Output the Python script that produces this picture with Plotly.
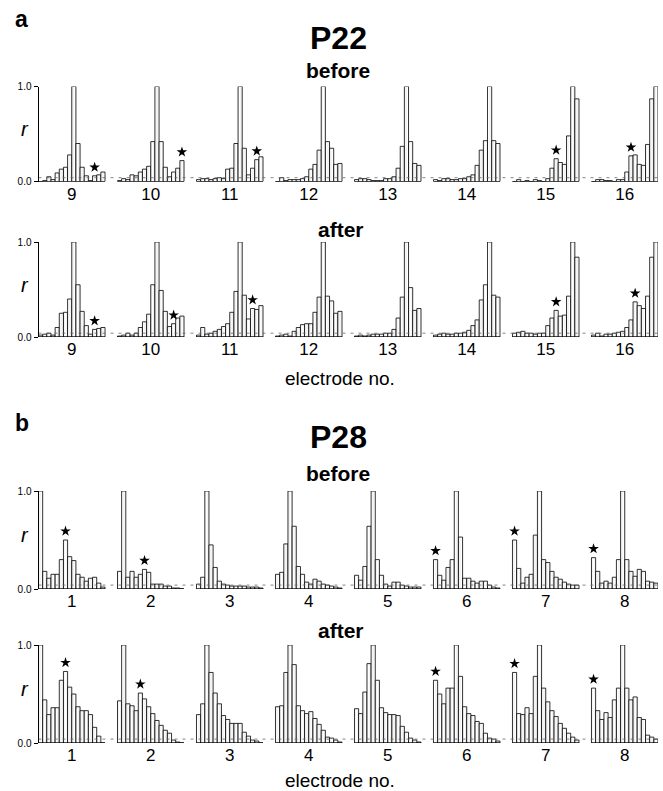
import plotly.graph_objects as go

# ---------------- data ----------------
p22_electrodes = [9, 10, 11, 12, 13, 14, 15, 16]
p28_electrodes = [1, 2, 3, 4, 5, 6, 7, 8]

p22_before = [
    [0.00, 0.01, 0.05, 0.02, 0.09, 0.13, 0.15, 0.28, 1.00, 0.40, 0.15, 0.06, 0.01, 0.06, 0.07, 0.10],
    [0.01, 0.03, 0.02, 0.07, 0.06, 0.10, 0.13, 0.16, 0.42, 1.00, 0.42, 0.15, 0.05, 0.10, 0.14, 0.22],
    [0.02, 0.03, 0.03, 0.02, 0.03, 0.04, 0.03, 0.13, 0.14, 0.40, 1.00, 0.35, 0.07, 0.14, 0.23, 0.26],
    [0.00, 0.04, 0.01, 0.02, 0.02, 0.02, 0.03, 0.05, 0.13, 0.18, 0.33, 1.00, 0.42, 0.35, 0.18, 0.19],
    [0.02, 0.03, 0.03, 0.02, 0.01, 0.01, 0.01, 0.03, 0.03, 0.05, 0.14, 0.37, 1.00, 0.42, 0.19, 0.17],
    [0.02, 0.01, 0.03, 0.03, 0.02, 0.02, 0.03, 0.03, 0.05, 0.07, 0.17, 0.33, 0.43, 1.00, 0.43, 0.40],
    [0.00, 0.02, 0.00, 0.01, 0.00, 0.02, 0.01, 0.00, 0.03, 0.14, 0.24, 0.20, 0.18, 0.48, 1.00, 0.87],
    [0.00, 0.02, 0.02, 0.01, 0.01, 0.00, 0.02, 0.02, 0.10, 0.27, 0.28, 0.18, 0.17, 0.39, 0.87, 1.00],
]
p22_before_stars = [13, 15, 14, None, None, None, 10, 9]

p22_after = [
    [0.02, 0.03, 0.04, 0.02, 0.10, 0.25, 0.26, 0.40, 1.00, 0.55, 0.27, 0.12, 0.03, 0.08, 0.09, 0.10],
    [0.01, 0.02, 0.04, 0.02, 0.04, 0.10, 0.16, 0.24, 0.55, 1.00, 0.49, 0.27, 0.11, 0.14, 0.20, 0.22],
    [0.02, 0.10, 0.03, 0.04, 0.06, 0.08, 0.11, 0.14, 0.26, 0.48, 1.00, 0.44, 0.19, 0.30, 0.29, 0.33],
    [0.01, 0.02, 0.03, 0.01, 0.06, 0.10, 0.13, 0.14, 0.14, 0.26, 0.42, 1.00, 0.43, 0.38, 0.25, 0.27],
    [0.01, 0.02, 0.01, 0.02, 0.03, 0.03, 0.03, 0.04, 0.04, 0.08, 0.20, 0.42, 1.00, 0.52, 0.28, 0.30],
    [0.02, 0.03, 0.04, 0.03, 0.03, 0.04, 0.04, 0.05, 0.07, 0.12, 0.18, 0.39, 0.55, 1.00, 0.44, 0.42],
    [0.04, 0.05, 0.06, 0.04, 0.04, 0.03, 0.04, 0.04, 0.12, 0.20, 0.28, 0.22, 0.23, 0.43, 1.00, 0.84],
    [0.02, 0.04, 0.01, 0.03, 0.03, 0.04, 0.05, 0.06, 0.10, 0.18, 0.37, 0.33, 0.30, 0.43, 0.84, 1.00],
]
p22_after_stars = [13, 13, 13, None, None, None, 10, 10]

p28_before = [
    [1.00, 0.18, 0.11, 0.15, 0.15, 0.30, 0.50, 0.33, 0.29, 0.15, 0.12, 0.08, 0.11, 0.12, 0.06, 0.02],
    [0.18, 1.00, 0.12, 0.18, 0.12, 0.15, 0.20, 0.17, 0.05, 0.05, 0.05, 0.03, 0.03, 0.01, 0.01, 0.00],
    [0.05, 0.12, 1.00, 0.45, 0.22, 0.08, 0.05, 0.04, 0.03, 0.03, 0.03, 0.03, 0.02, 0.02, 0.02, 0.01],
    [0.15, 0.17, 0.46, 1.00, 0.64, 0.23, 0.15, 0.07, 0.05, 0.10, 0.08, 0.05, 0.04, 0.03, 0.02, 0.01],
    [0.14, 0.09, 0.23, 0.64, 1.00, 0.30, 0.14, 0.05, 0.03, 0.07, 0.07, 0.04, 0.03, 0.02, 0.02, 0.02],
    [0.30, 0.14, 0.09, 0.22, 0.30, 1.00, 0.53, 0.11, 0.11, 0.08, 0.06, 0.08, 0.08, 0.04, 0.02, 0.01],
    [0.50, 0.21, 0.06, 0.12, 0.15, 0.55, 1.00, 0.30, 0.27, 0.18, 0.12, 0.10, 0.07, 0.05, 0.04, 0.04],
    [0.32, 0.18, 0.06, 0.08, 0.06, 0.12, 0.30, 1.00, 0.30, 0.18, 0.13, 0.20, 0.18, 0.08, 0.07, 0.06],
]
p28_before_stars = [6, 6, None, None, None, 0, 0, 0]

p28_after = [
    [1.00, 0.44, 0.29, 0.36, 0.36, 0.64, 0.73, 0.57, 0.50, 0.37, 0.33, 0.33, 0.29, 0.16, 0.07, 0.00],
    [0.43, 1.00, 0.40, 0.38, 0.33, 0.51, 0.45, 0.37, 0.30, 0.23, 0.18, 0.13, 0.10, 0.03, 0.01, 0.00],
    [0.29, 0.40, 1.00, 0.72, 0.51, 0.40, 0.28, 0.24, 0.20, 0.20, 0.20, 0.11, 0.07, 0.03, 0.02, 0.00],
    [0.37, 0.38, 0.72, 1.00, 0.80, 0.38, 0.33, 0.30, 0.32, 0.25, 0.19, 0.13, 0.06, 0.05, 0.03, 0.01],
    [0.35, 0.30, 0.52, 0.81, 1.00, 0.64, 0.36, 0.31, 0.29, 0.29, 0.28, 0.17, 0.11, 0.05, 0.03, 0.01],
    [0.64, 0.50, 0.40, 0.56, 0.56, 1.00, 0.68, 0.37, 0.30, 0.28, 0.22, 0.20, 0.10, 0.05, 0.04, 0.02],
    [0.72, 0.30, 0.29, 0.36, 0.30, 0.68, 1.00, 0.56, 0.42, 0.33, 0.27, 0.20, 0.15, 0.10, 0.06, 0.03],
    [0.56, 0.33, 0.24, 0.31, 0.26, 0.44, 0.56, 1.00, 0.56, 0.44, 0.47, 0.26, 0.24, 0.08, 0.06, 0.04],
]
p28_after_stars = [6, 5, None, None, None, 0, 0, 0]

threshold = 0.04
y_ticks = [0.0, 1.0]
y_tick_labels = ["0.0", "1.0"]

# ---------------- layout helpers ----------------
W, H = 663, 791
STRIDE = 19           # 16 bars + 3 bar-widths gap between electrode groups
NBARS = 16
STAR_OFFSET = 0.09
FONT = "Liberation Sans, Arial, Helvetica, sans-serif"


def py(px):
    return 1 - px / H


def px_(px):
    return px / W


rows = [
    dict(vals=p22_before, stars=p22_before_stars, labels=p22_electrodes, top=86.5, bot=181.5),
    dict(vals=p22_after, stars=p22_after_stars, labels=p22_electrodes, top=242, bot=337),
    dict(vals=p28_before, stars=p28_before_stars, labels=p28_electrodes, top=491, bot=589),
    dict(vals=p28_after, stars=p28_after_stars, labels=p28_electrodes, top=645, bot=743),
]

fig = go.Figure()
layout_axes = {}
x_lo, x_hi = 38.5, 658

for r, row in enumerate(rows):
    suffix = "" if r == 0 else str(r + 1)
    xa, ya = "x" + suffix, "y" + suffix
    ngroups = len(row["vals"])
    xmax = (ngroups - 1) * STRIDE + NBARS - 0.5

    xs, ys = [], []
    for g, vals in enumerate(row["vals"]):
        for i, v in enumerate(vals):
            xs.append(g * STRIDE + i)
            ys.append(v)
    fig.add_bar(
        x=xs, y=ys, width=1, xaxis=xa, yaxis=ya,
        marker=dict(color="white", line=dict(color="black", width=0.8),
                    pattern=dict(shape="|", fgcolor="#c4c4c4", bgcolor="white",
                                 size=3, solidity=0.25)),
        hoverinfo="skip",
    )

    # threshold (dashed)
    fig.add_scatter(x=[-0.5, xmax], y=[threshold, threshold], mode="lines",
                    line=dict(color="#666666", width=0.8, dash="3px,5px"),
                    xaxis=xa, yaxis=ya, hoverinfo="skip")

    # solid baseline under each electrode group
    bx, by = [], []
    for g, vals in enumerate(row["vals"]):
        bx += [g * STRIDE - 0.5, g * STRIDE + len(vals) - 0.5, None]
        by += [0, 0, None]
    fig.add_scatter(x=bx, y=by, mode="lines", line=dict(color="black", width=1),
                    xaxis=xa, yaxis=ya, hoverinfo="skip")

    # stars
    sx, sy = [], []
    for g, s in enumerate(row["stars"]):
        if s is not None:
            sx.append(g * STRIDE + s)
            sy.append(row["vals"][g][s] + STAR_OFFSET)
    fig.add_scatter(x=sx, y=sy, mode="markers",
                    marker=dict(symbol="star", size=8, color="black"),
                    xaxis=xa, yaxis=ya, hoverinfo="skip")

    centers = [g * STRIDE + (NBARS - 1) / 2 for g in range(ngroups)]
    layout_axes["xaxis" + suffix] = dict(
        domain=[px_(x_lo), px_(x_hi)], range=[-0.5, xmax], anchor=ya,
        showgrid=False, zeroline=False, showline=False,
        tickvals=centers, ticktext=[str(e) for e in row["labels"]], ticks="",
        tickfont=dict(size=17, family=FONT, color="black"), fixedrange=True,
        automargin=False,
    )
    layout_axes["yaxis" + suffix] = dict(
        domain=[py(row["bot"]), py(row["top"])], range=[0, 1.0], anchor=xa,
        showgrid=False, zeroline=False, showline=True, linecolor="black", linewidth=1,
        ticks="outside", ticklen=4, tickwidth=1, tickcolor="black",
        tickvals=y_ticks, ticktext=y_tick_labels,
        tickfont=dict(size=10, family=FONT, color="black"), fixedrange=True,
        automargin=False,
    )

# ---------------- text ----------------
ann = []


def text(t, x, y, size, bold=False, italic=False, xanchor="center"):
    s = t
    if bold:
        s = "<b>" + s + "</b>"
    if italic:
        s = "<i>" + s + "</i>"
    ann.append(dict(text=s, x=px_(x), y=py(y), xref="paper", yref="paper",
                    xanchor=xanchor, yanchor="middle", showarrow=False,
                    font=dict(size=size, family=FONT, color="black")))


text("a", 13, 19, 23, bold=True, xanchor="left")
text("P22", 338, 38, 32, bold=True)
text("before", 338, 71, 21, bold=True)
text("after", 341, 229, 21, bold=True)
text("electrode no.", 340, 378, 19)

text("b", 13, 423, 23, bold=True, xanchor="left")
text("P28", 338, 437, 32, bold=True)
text("before", 338, 474, 21, bold=True)
text("after", 341, 630, 21, bold=True)
text("electrode no.", 340, 780, 19)

for row in rows:
    text("r", 25, row["top"] + 0.45 * (row["bot"] - row["top"]), 20, italic=True)

fig.update_layout(
    width=W, height=H, margin=dict(l=0, r=0, t=0, b=0, autoexpand=False),
    paper_bgcolor="white", plot_bgcolor="white",
    showlegend=False, bargap=0, barmode="overlay",
    annotations=ann, **layout_axes,
)

fig.write_html(
    "out.html",
    config={"displayModeBar": False, "staticPlot": True},
    post_script="document.body.style.margin='0';document.body.style.overflow='hidden';",
)
